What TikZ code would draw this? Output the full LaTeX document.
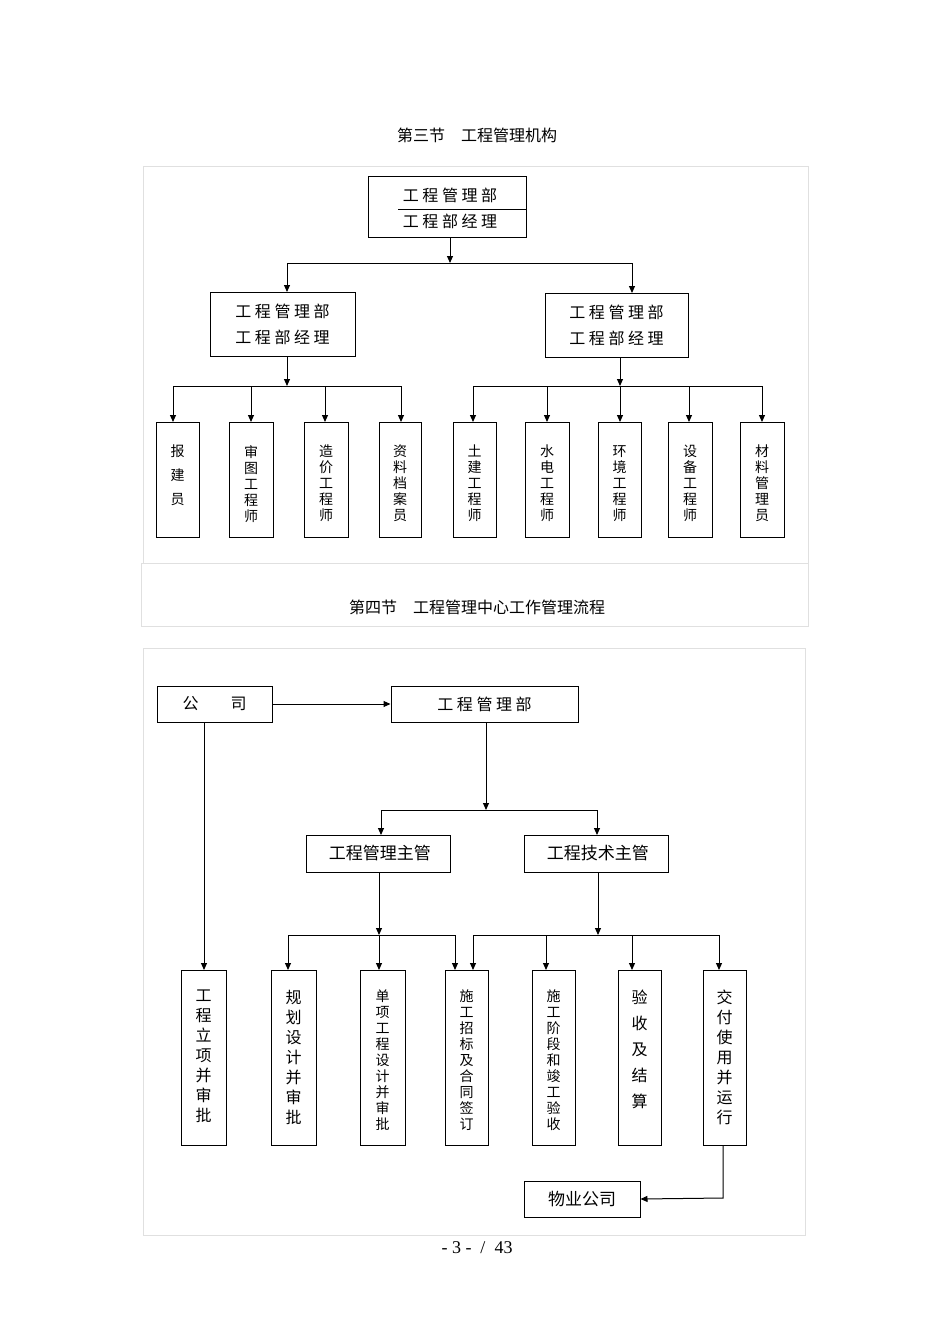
\documentclass[tikz,border=0pt]{standalone}
\usepackage{fontspec}
\setmainfont{Liberation Serif}
\newfontfamily\cjk{Noto Sans CJK SC}
\usetikzlibrary{arrows.meta}
\begin{document}
\begin{tikzpicture}[x=1pt,y=-1pt,
  box/.style={draw,line width=1pt,inner sep=0pt},
  lab/.style={font=\cjk\fontsize{16}{18}\selectfont},
  vt/.style={font=\cjk\fontsize{14}{16}\selectfont,align=center,anchor=north,inner sep=0pt},
  vtb/.style={font=\cjk\fontsize{16}{20}\selectfont,align=center,anchor=north,inner sep=0pt},
  arr/.style={line width=1pt,-{Triangle[length=7pt,width=6pt]}},
  ln/.style={line width=1pt},
  frame/.style={draw=black!12,line width=0.6pt}]
\useasboundingbox (0,0) rectangle (950,1344);
\fill[white] (0,0) rectangle (950,1344);
% frames
\draw[frame] (143,166) rectangle (808,563);
\draw[frame] (141,563) rectangle (808,626);
\draw[frame] (143,648) rectangle (805,1235);
\node[lab] (t3) at (477,135) {第三节\quad 工程管理机构};
\node[lab] (t4) at (477,607) {第四节\quad 工程管理中心工作管理流程};
% top box
\node[box,minimum width=158pt,minimum height=61pt] (top) at (447,206.5) {};
\draw[ln] (398,209) -- (526,209);
\node[lab] (topa) at (450,195) {工 程 管 理 部};
\node[lab] (topb) at (450,221) {工 程 部 经 理};
\node[box,minimum width=145pt,minimum height=64pt,lab,align=center,font=\cjk\fontsize{16}{26}\selectfont] (L) at (282.5,324) {工 程 管 理 部\\工 程 部 经 理};
\node[box,minimum width=143pt,minimum height=64pt,lab,align=center,font=\cjk\fontsize{16}{26}\selectfont] (R) at (616.5,325) {工 程 管 理 部\\工 程 部 经 理};
\coordinate (j0) at (450,263);
\draw[arr] (top.south -| j0) -- (j0);
\draw[arr] (287,263) -- (287,292);
\draw[arr] (632,263) -- (632,293);
\draw[ln] (287,263) -- (632,263);
% small boxes
\foreach \n/\xa/\xb/\t in {a/156/199/{报\\[8pt]建\\[8pt]员},b/229/273/{审\\图\\工\\程\\师},c/304/348/{造\\价\\工\\程\\师},d/379/421/{资\\料\\档\\案\\员},e/453/496/{土\\建\\工\\程\\师},f/525/569/{水\\电\\工\\程\\师},g/598/641/{环\\境\\工\\程\\师},h/668/712/{设\\备\\工\\程\\师},i/740/784/{材\\料\\管\\理\\员}}{
  \draw[line width=1pt] (\xa,422) rectangle (\xb,537);
  \node[vt] (s\n) at ({(\xa+\xb)/2},445) {\t};
}
\draw[arr] (287,356) -- (287,386);
\draw[ln] (173,386) -- (402,386);
\foreach \x in {173,251,325,401}{\draw[arr] (\x,386) -- (\x,422);}
\draw[arr] (620,357) -- (620,386);
\draw[ln] (473,386) -- (762,386);
\foreach \x in {473,547,620,689,762}{\draw[arr] (\x,386) -- (\x,422);}
% bottom flow
\node[box,minimum width=115pt,minimum height=36pt,lab] (gs) at (214.5,704) {公\qquad 司};
\node[box,minimum width=187pt,minimum height=36pt,lab] (gb) at (484.5,704) {工 程 管 理 部};
\draw[arr] (gs.east) -- (gb.west);
\node[box,minimum width=144pt,minimum height=37pt,font=\cjk\fontsize{17}{20}\selectfont] (m1) at (378,853.5) {\ 工程管理主管};
\node[box,minimum width=144pt,minimum height=37pt,font=\cjk\fontsize{17}{20}\selectfont] (m2) at (596,853.5) {\ 工程技术主管};
\draw[arr] (486,722) -- (486,810);
\draw[ln] (381,810) -- (597,810);
\draw[arr] (381,810) -- (381,835);
\draw[arr] (597,810) -- (597,835);
\foreach \n/\xa/\xb/\t/\s in {p/181/226/{工\\程\\立\\项\\并\\审\\批}/vtb,q/271/316/{规\\划\\设\\计\\并\\审\\批}/vtb,r/360/405/{单\\项\\工\\程\\设\\计\\并\\审\\批}/vt,u/445/488/{施\\工\\招\\标\\及\\合\\同\\签\\订}/vt,v/532/575/{施\\工\\阶\\段\\和\\竣\\工\\验\\收}/vt,w/618/661/{验\\[6pt]收\\[6pt]及\\[6pt]结\\[6pt]算}/vtb,z/703/746/{交\\付\\使\\用\\并\\运\\行}/vtb}{
  \draw[line width=1pt] (\xa,970) rectangle (\xb,1145);
  \node[\s] (b\n) at ({(\xa+\xb)/2},990) {\t};
}
\draw[arr] (204,722) -- (204,970);
\draw[arr] (379,872) -- (379,935);
\draw[ln] (288,935) -- (455,935);
\foreach \x in {288,379,455}{\draw[arr] (\x,935) -- (\x,970);}
\draw[arr] (598,872) -- (598,935);
\draw[ln] (473,935) -- (719,935);
\foreach \x in {473,546,632,719}{\draw[arr] (\x,935) -- (\x,970);}
\node[box,minimum width=116pt,minimum height=36pt,font=\cjk\fontsize{17}{20}\selectfont] (wy) at (582,1199) {物业公司};
\coordinate (c1) at (723,1198);
\draw[arr] (723,1145) -- (c1) -- (wy.east);
\node[font=\fontsize{18}{20}\selectfont] (pg) at (477,1248) {- 3 -\ \ /\ \ 43};
\end{tikzpicture}
\end{document}
